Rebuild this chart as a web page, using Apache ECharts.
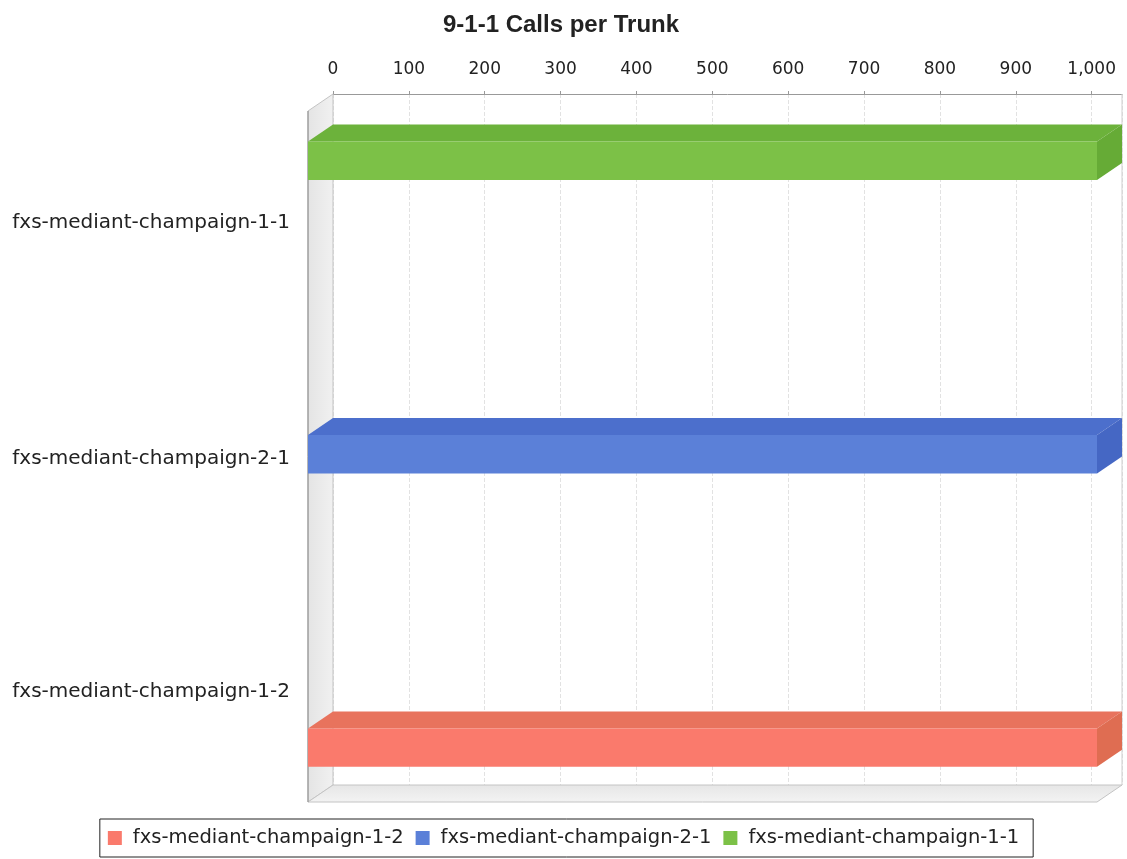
<!DOCTYPE html>
<html>
<head>
<meta charset="utf-8">
<script src="https://cdn.jsdelivr.net/npm/echarts@6/dist/echarts.min.js"></script>
<style>html,body{margin:0;padding:0;background:#fff}#c{width:1127px;height:859px}</style>
</head>
<body>
<div id="c"></div>
<script>
// categories, top to bottom
var categories = ['fxs-mediant-champaign-1-1', 'fxs-mediant-champaign-2-1', 'fxs-mediant-champaign-1-2'];
var seriesNames = ['fxs-mediant-champaign-1-2', 'fxs-mediant-champaign-2-1', 'fxs-mediant-champaign-1-1'];
// values per category (top to bottom); null = no bar
var valuesChampaign12 = [null, null, 1040];
var valuesChampaign21 = [null, 1040, null];
var valuesChampaign11 = [1040, null, null];
var xTicks = [0, 100, 200, 300, 400, 500, 600, 700, 800, 900, 1000];

var seriesValues = [valuesChampaign12, valuesChampaign21, valuesChampaign11];
var faceColors = [
  {front: '#fa7a6c', top: '#e8735d', side: '#df6d52'},
  {front: '#5b80d8', top: '#4c6fcc', side: '#4567c4'},
  {front: '#7cc147', top: '#6cb23b', side: '#66ab36'}
];
var DX = 25, DY = 17;

function barRender(sIdx) {
  return function (params, api) {
    var val = api.value(0), cat = api.value(1);
    var band = api.size([0, 1])[1];
    var p0 = api.coord([0, cat]);
    var p1 = api.coord([val, cat]);
    var slotFromTop = seriesNames.length - 1 - sIdx;
    var h = band * 0.167;
    var yc = p0[1] + (slotFromTop - 1) * 0.274 * band - 0.01 * band;
    var yb = yc - h / 2;
    var xs = p0[0], xe = p1[0];
    var c = faceColors[sIdx];
    return {
      type: 'group',
      children: [
        {type: 'polygon', shape: {points: [[xs - DX, yb + DY], [xs, yb], [xe, yb], [xe - DX, yb + DY]]}, style: {fill: c.top}},
        {type: 'polygon', shape: {points: [[xe - DX, yb + DY], [xe, yb], [xe, yb + h], [xe - DX, yb + DY + h]]}, style: {fill: c.side}},
        {type: 'rect', shape: {x: xs - DX, y: yb + DY, width: xe - xs, height: h}, style: {fill: c.front}}
      ]
    };
  };
}

function wallRender(params, api) {
  var cs = params.coordSys;
  var x0 = cs.x, y0 = cs.y, x1 = cs.x + cs.width, y1 = cs.y + cs.height;
  return {
    type: 'group',
    children: [
      {type: 'polygon', shape: {points: [[x0 - DX, y0 + DY], [x0, y0], [x0, y1], [x0 - DX, y1 + DY]]},
        style: {fill: new echarts.graphic.LinearGradient(0, 0, 1, 0, [{offset: 0, color: '#e4e4e4'}, {offset: 1, color: '#f1f1f1'}]), stroke: '#c4c4c4', lineWidth: 1}},
      {type: 'polygon', shape: {points: [[x0 - DX, y1 + DY], [x0, y1], [x1, y1], [x1 - DX, y1 + DY]]},
        style: {fill: new echarts.graphic.LinearGradient(0, 0, 0, 1, [{offset: 0, color: '#e6e6e6'}, {offset: 1, color: '#f3f3f3'}]), stroke: '#c4c4c4', lineWidth: 1}},
      {type: 'line', shape: {x1: x1, y1: y0, x2: x1, y2: y1}, style: {stroke: '#cfcfcf', lineWidth: 1}},
      {type: 'line', shape: {x1: x0 - DX, y1: y0 + DY, x2: x0 - DX, y2: y1 + DY}, style: {stroke: '#8a8a8a', lineWidth: 1}}
    ]
  };
}

var series = [{
  type: 'custom', name: 'walls', silent: true, z: 1,
  renderItem: wallRender, data: [[0, 0]], encode: {x: 0, y: 1}
}];
seriesNames.forEach(function (name, i) {
  series.push({
    type: 'custom', name: name, z: 3,
    itemStyle: {color: faceColors[i].front},
    renderItem: barRender(i),
    encode: {x: 0, y: 1},
    data: seriesValues[i].map(function (v, k) { return [v, k]; }).filter(function (d) { return d[0] != null; })
  });
});

var labelFont = {fontFamily: 'DejaVu Sans', fontSize: 20, color: '#222'};
var chart = echarts.init(document.getElementById('c'));
chart.setOption({
  backgroundColor: '#fff',
  animation: false,
  title: {
    text: '9-1-1 Calls per Trunk', left: 556, textAlign: 'center', top: 8,
    textStyle: {fontFamily: 'Liberation Sans', fontWeight: 'bold', fontSize: 24, color: '#222'}
  },
  legend: {
    data: seriesNames, bottom: 2, left: 'center',
    borderColor: '#222', borderWidth: 1, padding: [9, 14, 9, 8],
    itemWidth: 14, itemHeight: 14, itemGap: 12, icon: 'rect',
    textStyle: {fontFamily: 'DejaVu Sans', fontSize: 19.5, color: '#222', padding: [0, 0, 0, 6]}
  },
  grid: {left: 333, right: 5, top: 94, bottom: 74, containLabel: false},
  xAxis: {
    type: 'value', position: 'top', min: 0, max: 1040, interval: 100,
    axisLine: {show: true, lineStyle: {color: '#999'}},
    axisTick: {show: true, length: 3, lineStyle: {color: '#999'}},
    axisLabel: {
      showMaxLabel: false, margin: 16, fontFamily: 'DejaVu Sans', fontSize: 17, color: '#222',
      formatter: function (v) { return xTicks.indexOf(v) >= 0 ? v.toLocaleString('en-US') : ''; }
    },
    splitLine: {show: true, lineStyle: {color: '#e2e2e2', type: 'dashed'}}
  },
  yAxis: {
    type: 'category', data: categories, inverse: true,
    axisLine: {show: false}, axisTick: {show: false},
    axisLabel: {
      margin: 43, verticalAlign: 'top',
      fontFamily: labelFont.fontFamily, fontSize: labelFont.fontSize, color: labelFont.color,
      formatter: function (v, i) { return '{l' + i + '|' + v + '}'; },
      rich: {
        l0: Object.assign({lineHeight: 28}, labelFont),
        l1: Object.assign({lineHeight: 38}, labelFont),
        l2: Object.assign({lineHeight: 44}, labelFont)
      }
    }
  },
  series: series
});
</script>
</body>
</html>
